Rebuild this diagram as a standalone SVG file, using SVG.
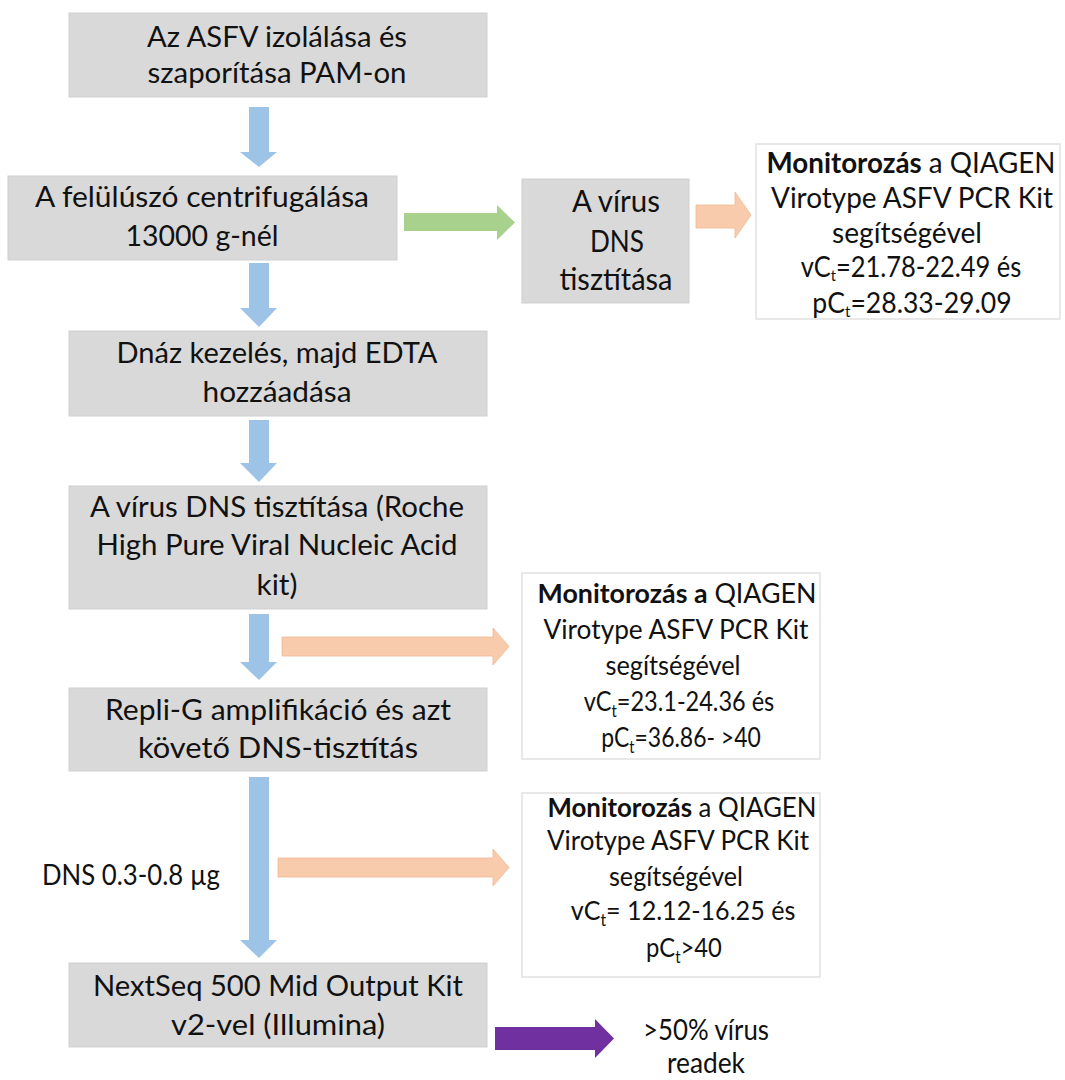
<svg xmlns="http://www.w3.org/2000/svg" width="1065" height="1080" viewBox="0 0 1065 1080">
<style>
.box{fill:#d9d9d9;stroke:#d0d0d0;stroke-width:1}
.mon{fill:#ffffff;stroke:#d9d9d9;stroke-width:1.2}
text{font-family:Lato,"Open Sans",sans-serif;fill:#111;text-anchor:middle}
.t{font-size:29px}
.r{font-size:30px}
.m1{font-size:28px}
.m2{font-size:27px}
.m3{font-size:27px}
.b{font-weight:bold}
.sub{font-size:17px}
.sub1{font-size:16px}
.blue{fill:#9dc3e6}
.green{fill:#a9d18e}
.peach{fill:#f8cbad;stroke:#f0b890;stroke-width:0.8}
.purple{fill:#7030a0}
</style>
<rect width="1065" height="1080" fill="#ffffff"/>
<g id="connectors">
<polygon class="blue" points="249,107 269,107 269,152 277,152 259,167 240,152 249,152"/>
<polygon class="blue" points="249,263 269,263 269,308 277,308 259,327 240,308 249,308"/>
<polygon class="blue" points="249,420 269,420 269,463 277,463 259,482 240,463 249,463"/>
<polygon class="blue" points="249,614 269,614 269,662 277,662 259,680 240,662 249,662"/>
<polygon class="blue" points="249,777 269,777 269,940 277,940 259,958 240,940 249,940"/>
<polygon class="green" points="404,213 497,213 497,205 515,222.5 497,240 497,231 404,231"/>
<polygon class="peach" points="696,205 735,205 735,192 751,215 735,238 735,228 696,228"/>
<polygon class="peach" points="282,637 493,637 493,628 509,646.5 493,665 493,656 282,656"/>
<polygon class="peach" points="278,858 493,858 493,849 509,867.5 493,886 493,877 278,877"/>
<polygon class="purple" points="495,1027 595,1027 595,1019 614,1038.5 595,1058 595,1050 495,1050"/>
</g>
<g id="n1">
<rect class="box" x="69" y="13" width="418" height="84"/>
<text class="t" x="277" y="47" textLength="260" lengthAdjust="spacingAndGlyphs">Az ASFV izolálása és</text>
<text class="t" x="277" y="83" textLength="259" lengthAdjust="spacingAndGlyphs">szaporítása PAM-on</text>
</g>
<g id="n2">
<rect class="box" x="8" y="176" width="389" height="84"/>
<text class="t" x="202" y="207" textLength="334" lengthAdjust="spacingAndGlyphs">A felülúszó centrifugálása</text>
<text class="t" x="202" y="246" textLength="153" lengthAdjust="spacingAndGlyphs">13000 g-nél</text>
</g>
<g id="n3">
<rect class="box" x="522" y="179" width="167" height="124"/>
<text class="r" x="616" y="212" textLength="88" lengthAdjust="spacingAndGlyphs">A vírus</text>
<text class="r" x="617" y="252" textLength="54" lengthAdjust="spacingAndGlyphs">DNS</text>
<text class="r" x="616" y="290" textLength="113" lengthAdjust="spacingAndGlyphs">tisztítása</text>
</g>
<g id="m1">
<rect class="mon" x="756" y="144" width="304" height="175"/>
<text class="m1" x="911" y="173" textLength="289" lengthAdjust="spacingAndGlyphs"><tspan class="b">Monitorozás</tspan> a QIAGEN</text>
<text class="m1" x="912" y="208" textLength="282" lengthAdjust="spacingAndGlyphs">Virotype ASFV PCR Kit</text>
<text class="m1" x="907" y="243" textLength="150" lengthAdjust="spacingAndGlyphs">segítségével</text>
<text class="m1" transform="translate(911,277) scale(0.91,1)" x="0" y="0">vC<tspan class="sub1" dy="4">t</tspan><tspan dy="-4">=21.78-22.49 és</tspan></text>
<text class="m1" transform="translate(912,313) scale(0.95,1)" x="0" y="0">pC<tspan class="sub1" dy="4">t</tspan><tspan dy="-4">=28.33-29.09</tspan></text>
</g>
<g id="n4">
<rect class="box" x="69" y="331" width="418" height="85"/>
<text class="t" x="277" y="363" textLength="321" lengthAdjust="spacingAndGlyphs">Dnáz kezelés, majd EDTA</text>
<text class="t" x="277" y="402" textLength="149" lengthAdjust="spacingAndGlyphs">hozzáadása</text>
</g>
<g id="n5">
<rect class="box" x="69" y="486" width="418" height="123"/>
<text class="t" x="277" y="517" textLength="374" lengthAdjust="spacingAndGlyphs">A vírus DNS tisztítása (Roche</text>
<text class="t" x="277" y="555" textLength="361" lengthAdjust="spacingAndGlyphs">High Pure Viral Nucleic Acid</text>
<text class="t" x="277" y="595" textLength="41" lengthAdjust="spacingAndGlyphs">kit)</text>
</g>
<g id="m2">
<rect class="mon" x="522" y="573" width="298" height="186"/>
<text class="m2" x="677" y="603" textLength="279" lengthAdjust="spacingAndGlyphs"><tspan class="b">Monitorozás a</tspan> QIAGEN</text>
<text class="m2" x="676" y="639" textLength="265" lengthAdjust="spacingAndGlyphs">Virotype ASFV PCR Kit</text>
<text class="m2" x="673" y="675" textLength="135" lengthAdjust="spacingAndGlyphs">segítségével</text>
<text class="m2" transform="translate(679,711) scale(0.87,1)" x="0" y="0">vC<tspan class="sub" dy="6">t</tspan><tspan dy="-6">=23.1-24.36 és</tspan></text>
<text class="m2" transform="translate(681,747) scale(0.85,1)" x="0" y="0">pC<tspan class="sub" dy="6">t</tspan><tspan dy="-6">=36.86- &gt;40</tspan></text>
</g>
<g id="n6">
<rect class="box" x="69" y="688" width="418" height="83"/>
<text class="t" x="278" y="720" textLength="346" lengthAdjust="spacingAndGlyphs">Repli-G amplifikáció és azt</text>
<text class="t" x="278" y="758" textLength="280" lengthAdjust="spacingAndGlyphs">követő DNS-tisztítás</text>
</g>
<g id="lbl">
<text class="t" x="42" y="885" style="text-anchor:start" textLength="178" lengthAdjust="spacingAndGlyphs">DNS 0.3-0.8 µg</text>
</g>
<g id="m3">
<rect class="mon" x="522" y="793" width="298" height="184"/>
<text class="m3" x="682" y="817" textLength="269" lengthAdjust="spacingAndGlyphs"><tspan class="b">Monitorozás</tspan> a QIAGEN</text>
<text class="m3" x="678" y="850" textLength="262" lengthAdjust="spacingAndGlyphs">Virotype ASFV PCR Kit</text>
<text class="m3" x="676" y="886" textLength="134" lengthAdjust="spacingAndGlyphs">segítségével</text>
<text class="m3" transform="translate(683,920) scale(0.93,1)" x="0" y="0">vC<tspan class="sub" dy="6">t</tspan><tspan dy="-6">= 12.12-16.25 és</tspan></text>
<text class="m3" transform="translate(684,957) scale(0.88,1)" x="0" y="0">pC<tspan class="sub" dy="6">t</tspan><tspan dy="-6">&gt;40</tspan></text>
</g>
<g id="n7">
<rect class="box" x="69" y="963" width="418" height="84"/>
<text class="t" x="278" y="996" textLength="370" lengthAdjust="spacingAndGlyphs">NextSeq 500 Mid Output Kit</text>
<text class="t" x="278" y="1035" textLength="214" lengthAdjust="spacingAndGlyphs">v2-vel (Illumina)</text>
</g>
<g id="n8">
<text class="t" x="706" y="1040" textLength="126" lengthAdjust="spacingAndGlyphs">&gt;50% vírus</text>
<text class="t" x="706" y="1073" textLength="78" lengthAdjust="spacingAndGlyphs">readek</text>
</g>
</svg>
